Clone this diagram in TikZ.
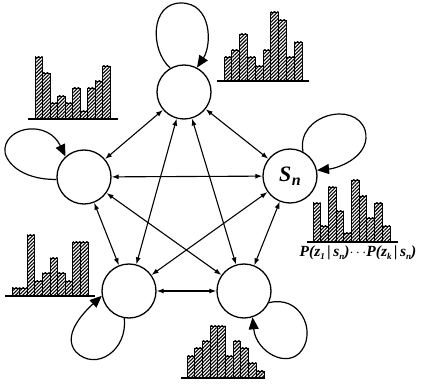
\documentclass[tikz,border=0pt]{standalone}
\usepackage{fontspec}
\setmainfont{Liberation Serif}
\usetikzlibrary{arrows.meta,patterns.meta}

\newcommand{\sbx}[1]{\raisebox{-0.45ex}{\fontsize{9}{9}\selectfont #1}}
% #1 first bar x, #2 baseline y, #3 bar width, #4 heights, #5 axis start x, #6 axis end x
\newcommand{\drawhist}[6]{%
  \foreach \h [count=\i from 0] in {#4} {
    \draw[bar] ({#1+\i*#3},#2) rectangle ++(#3,-\h);
  }
  \draw[axis] (#5,#2) -- (#6,#2);
}

\begin{document}
\begin{tikzpicture}[x=1pt,y=-1pt,
  state/.style={circle,draw,line width=1.3pt,minimum size=54pt,inner sep=0pt},
  link/.style={line width=1.1pt,{Latex[length=7pt,width=5pt]}-{Latex[length=7pt,width=5pt]}},
  selfloop/.style={line width=1.2pt,-{Triangle[length=12pt,width=10pt]}},
  bar/.style={line width=0.9pt,pattern={Lines[angle=45,distance=2.5pt,line width=1.1pt]}},
  axis/.style={line width=1.5pt}]
\useasboundingbox (0,0) rectangle (424,385);

% states
\node[state] (t)  at (184,92)  {};
\node[state] (l)  at (84,177)  {};
\node[state] (r)  at (290,176) {\fontsize{22}{22}\selectfont\bfseries\itshape S\kern0.5pt\raisebox{-0.4ex}{\fontsize{16}{16}\selectfont n}};
\node[state] (bl) at (129,291) {};
\node[state] (br) at (244,291) {};

% transitions between every pair of states
\foreach \a/\b in {t/l,t/r,t/bl,t/br,l/r,l/bl,l/br,r/bl,r/br,bl/br}
  \draw[link] (\a) -- (\b);

% self transitions
\draw[selfloop] (t.120) .. controls (150,50) and (150,3) .. (181,3)
  .. controls (212,3) and (212,45) .. (t.62);
\draw[selfloop] (l.185) .. controls (20,180) and (3,160) .. (5,148)
  .. controls (8,126) and (48,120) .. (l.132);
\draw[selfloop] (r.62) .. controls (296,115) and (355,100) .. (365,130)
  .. controls (372,155) and (340,168) .. (r.12);
\draw[selfloop] (bl.-100) .. controls (128,350) and (96,372) .. (76,352)
  .. controls (62,336) and (82,314) .. (bl.190);
\draw[selfloop] (br.-25) .. controls (300,295) and (316,330) .. (302,350)
  .. controls (288,370) and (256,352) .. (br.-72);

% observation histograms
\drawhist{224}{81}{7.8}{24,31,47,24,15,31,69,61,24,39}{217}{309}
\drawhist{35}{119}{7.5}{62,46,16,23,16,31,8,31,38,53}{28}{118}
\drawhist{313}{242}{7.7}{39,16,55,31,9,62,46,24,39,16}{307}{398}
\drawhist{12}{296}{7.6}{8,8,61,15,23,38,23,15,54,54}{5}{95}
\drawhist{187}{378}{7.7}{22,30,37,52,52,22,37,30,15,7}{181}{265}

\node[anchor=center,inner sep=0pt] (lab) at (358,253)
  {\fontsize{15.5}{15.5}\selectfont\bfseries\itshape P(z\sbx{1}\,|\,s\sbx{n})$\cdots$P(z\sbx{k}\,|\,s\sbx{n})};
\end{tikzpicture}
\end{document}
